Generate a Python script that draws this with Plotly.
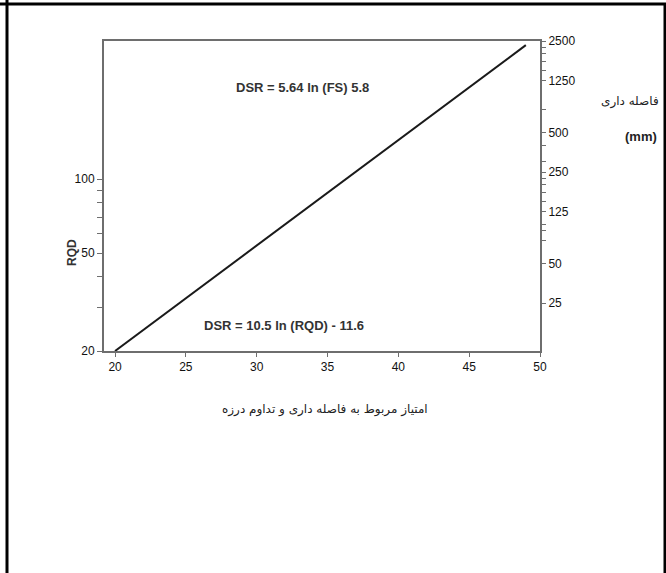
import plotly.graph_objects as go

# Data: DSR score against RQD (log scale) and joint spacing FS in mm (log scale)
dsr = [20, 49]
rqd = [20, 350]

x_ticks = [20, 25, 30, 35, 40, 45, 50]
rqd_ticks = [20, 30, 40, 50, 60, 70, 80, 90, 100]
rqd_labels = ["20", "", "", "50", "", "", "", "", "100"]
fs_ticks = [25, 50, 75, 90, 100, 125, 150, 175, 200, 225, 250, 300, 400,
            500, 750, 1250, 1500, 1750, 2000, 2250, 2500]
fs_labels = ["25", "50", "", "", "", "125", "", "", "", "", "250", "", "",
             "500", "", "1250", "", "", "", "", "2500"]

W, H = 666, 573
L, R, T, B = 104, 540, 41, 351


def px(x):
    return (x - L) / (R - L)


def py(y):
    return (B - y) / (B - T)


tick_font = dict(family="Liberation Sans Narrow, Liberation Sans, Arial", size=12, color="#111")
axis_color = "#6e6e6e"

fig = go.Figure()
fig.add_trace(go.Scatter(x=dsr, y=rqd, mode="lines",
                         line=dict(color="#1a1a1a", width=2), showlegend=False))
# invisible trace to attach the right-hand spacing axis
fig.add_trace(go.Scatter(x=[30], y=[100], yaxis="y2", mode="markers",
                         marker=dict(opacity=0), showlegend=False, hoverinfo="skip"))

fig.update_layout(
    width=W, height=H,
    margin=dict(l=L, r=W - R, t=T, b=H - B),
    paper_bgcolor="white", plot_bgcolor="white",
    xaxis=dict(range=[19.22, 50], tickvals=x_ticks, showgrid=False, zeroline=False,
               showline=True, mirror=True, linecolor=axis_color, linewidth=2,
               ticks="outside", ticklen=4, tickcolor=axis_color, tickfont=tick_font),
    yaxis=dict(type="log", range=[1.30103, 2.561], tickvals=rqd_ticks, ticktext=rqd_labels,
               showgrid=False, zeroline=False, showline=True, linecolor=axis_color,
               linewidth=2, ticks="outside", ticklen=5, tickcolor=axis_color,
               tickfont=tick_font),
    yaxis2=dict(type="log", range=[1.032, 3.398], overlaying="y", side="right",
                tickvals=fs_ticks, ticktext=fs_labels, showgrid=False, zeroline=False,
                showline=True, linecolor=axis_color, linewidth=2, ticks="outside",
                ticklen=4, tickcolor=axis_color, tickfont=tick_font),
)

eq_font = dict(family="Liberation Sans Narrow, Liberation Sans, Arial", size=13, color="#333")
fa_font = dict(family="DejaVu Sans, Noto Sans", size=12, color="#222")

annotations = [
    dict(x=px(302), y=py(87), text="<b>DSR = 5.64 ln (FS) 5.8</b>", font=eq_font),
    dict(x=px(284), y=py(325), text="<b>DSR = 10.5 ln (RQD) - 11.6</b>", font=eq_font),
    dict(x=px(72), y=py(253), text="<b>RQD</b>", textangle=-90,
         font=dict(family="Liberation Sans, Arial", size=12, color="#333")),
    dict(x=px(630), y=py(101), text="فاصله داری", font=fa_font),
    dict(x=px(641), y=py(136), text="<b>(mm)</b>",
         font=dict(family="Liberation Sans, Arial", size=13, color="#222")),
    dict(x=px(325), y=py(409), text="امتیاز مربوط به فاصله داری و تداوم درزه", font=fa_font),
]
for a in annotations:
    a.update(xref="paper", yref="paper", showarrow=False, xanchor="center", yanchor="middle")
fig.update_layout(annotations=annotations)

# surrounding table-cell frame
frame = dict(type="line", xref="paper", yref="paper", line=dict(color="black", width=3))
fig.update_layout(shapes=[
    dict(frame, x0=px(0), x1=px(W), y0=py(4), y1=py(4)),
    dict(frame, x0=px(7), x1=px(7), y0=py(0), y1=py(H)),
    dict(frame, x0=px(665), x1=px(665), y0=py(4), y1=py(H)),
])

fig.write_html("out.html")
